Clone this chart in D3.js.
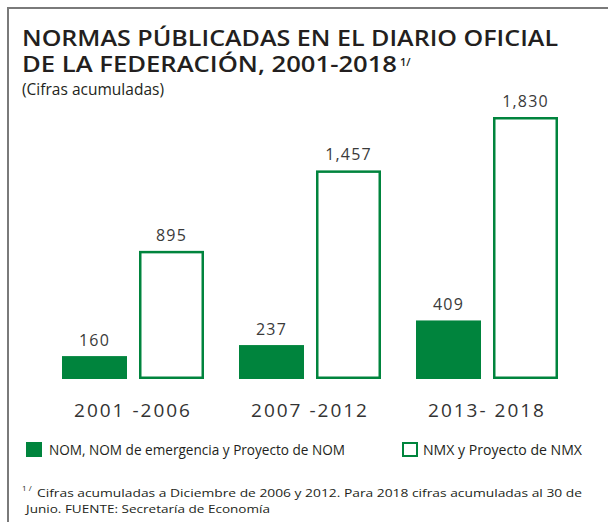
<!DOCTYPE html>
<html>
<head>
<meta charset="utf-8">
<script src="https://cdn.jsdelivr.net/npm/d3@7"></script>
<style>
  html, body { margin: 0; padding: 0; background: #fff; }
  svg { display: block; font-family: "Open Sans", sans-serif; }
</style>
</head>
<body>
<div id="chart"></div>
<script>
// ----- DATA -----
var periods = ["2001 -2006", "2007 -2012", "2013- 2018"];
var series = ["NOM", "NMX"];
var nomValues = [160, 237, 409];
var nmxValues = [895, 1457, 1830];
var legendLabels = ["NOM, NOM de emergencia y Proyecto de NOM", "NMX y Proyecto de NMX"];

var width = 608, height = 522;
var green = "#00843d";

var svg = d3.select("#chart").append("svg")
    .attr("width", width)
    .attr("height", height);

// frame
svg.append("path")
    .attr("d", "M 612 8 L 8 8 L 8 530")
    .attr("fill", "none")
    .attr("stroke", "#7a7a7a")
    .attr("stroke-width", 2);

// ----- TITLE -----
svg.append("text")
    .attr("x", 22).attr("y", 45.5)
    .attr("font-size", 21.5).attr("font-weight", 600)
    .attr("fill", "#231f20")
    .attr("textLength", 536).attr("lengthAdjust", "spacingAndGlyphs")
    .text("NORMAS PÚBLICADAS EN EL DIARIO OFICIAL");

svg.append("text")
    .attr("x", 22).attr("y", 72)
    .attr("font-size", 21.5).attr("font-weight", 600)
    .attr("fill", "#231f20")
    .attr("textLength", 375).attr("lengthAdjust", "spacingAndGlyphs")
    .text("DE LA FEDERACIÓN, 2001-2018");

svg.append("text")
    .attr("x", 400).attr("y", 66)
    .attr("font-size", 11).attr("font-weight", 600)
    .attr("fill", "#231f20")
    .text("1/");

svg.append("text")
    .attr("x", 22).attr("y", 95)
    .attr("font-size", 15.5)
    .attr("fill", "#231f20")
    .attr("textLength", 142).attr("lengthAdjust", "spacingAndGlyphs")
    .text("(Cifras acumuladas)");

// ----- SCALES -----
var x0 = d3.scaleBand()
    .domain(periods)
    .range([44.5, 575.5])
    .paddingInner(35 / 177)
    .paddingOuter(17.5 / 177);

var x1 = d3.scaleBand()
    .domain(series)
    .range([0, x0.bandwidth()])
    .paddingInner(12 / 77);

var y = d3.scaleLinear()
    .domain([0, 1830])
    .range([379, 117]);

var fmt = d3.format(",");

var rows = periods.map(function(p, i) {
    return {period: p, values: [
        {key: "NOM", value: nomValues[i]},
        {key: "NMX", value: nmxValues[i]}
    ]};
});

var groups = svg.selectAll("g.group")
    .data(rows)
    .enter().append("g")
    .attr("class", "group")
    .attr("transform", function(d) { return "translate(" + x0(d.period) + ",0)"; });

var sw = 2.5;
groups.selectAll("rect")
    .data(function(d) { return d.values; })
    .enter().append("rect")
    .attr("x", function(d) { return d.key == "NOM" ? x1(d.key) : x1(d.key) + sw / 2; })
    .attr("y", function(d) { return d.key == "NOM" ? y(d.value) : y(d.value) + sw / 2; })
    .attr("width", function(d) { return d.key == "NOM" ? x1.bandwidth() : x1.bandwidth() - sw; })
    .attr("height", function(d) { return d.key == "NOM" ? y(0) - y(d.value) : y(0) - y(d.value) - sw; })
    .attr("fill", function(d) { return d.key == "NOM" ? green : "#fff"; })
    .attr("stroke", function(d) { return d.key == "NOM" ? "none" : green; })
    .attr("stroke-width", sw);

groups.selectAll("text.value")
    .data(function(d) { return d.values; })
    .enter().append("text")
    .attr("class", "value")
    .attr("x", function(d) { return x1(d.key) + x1.bandwidth() / 2; })
    .attr("y", function(d) { return y(d.value) - 10; })
    .attr("text-anchor", "middle")
    .attr("font-size", 16)
    .attr("letter-spacing", 1.2)
    .attr("fill", "#3a3a3a")
    .text(function(d) { return fmt(d.value); });

// category labels
groups.append("text")
    .attr("x", x0.bandwidth() / 2)
    .attr("y", 417)
    .attr("text-anchor", "middle")
    .attr("font-size", 19)
    .attr("letter-spacing", 2)
    .attr("fill", "#333")
    .text(function(d) { return d.period; });

// ----- LEGEND -----
var legendX = [26, 402];
var legend = svg.selectAll("g.legend")
    .data(series)
    .enter().append("g")
    .attr("class", "legend")
    .attr("transform", function(d, i) { return "translate(" + legendX[i] + ",442)"; });

legend.append("rect")
    .attr("x", function(d) { return d == "NOM" ? 0 : 1; })
    .attr("y", function(d) { return d == "NOM" ? 0 : 1; })
    .attr("width", function(d) { return d == "NOM" ? 16 : 14; })
    .attr("height", function(d) { return d == "NOM" ? 15 : 13; })
    .attr("fill", function(d) { return d == "NOM" ? green : "#fff"; })
    .attr("stroke", function(d) { return d == "NOM" ? "none" : green; })
    .attr("stroke-width", 2);

legend.append("text")
    .attr("x", function(d) { return d == "NOM" ? 23 : 21; })
    .attr("y", 13)
    .attr("font-size", 14)
    .attr("fill", "#231f20")
    .attr("textLength", function(d, i) { return i == 0 ? 296 : 159; })
    .attr("lengthAdjust", "spacingAndGlyphs")
    .text(function(d, i) { return legendLabels[i]; });

// ----- FOOTNOTE -----
svg.append("text")
    .attr("x", 22).attr("y", 490.5)
    .attr("font-size", 8)
    .attr("fill", "#231f20")
    .text("1 /");

svg.append("text")
    .attr("x", 37).attr("y", 496.5)
    .attr("font-size", 11.5)
    .attr("fill", "#231f20")
    .attr("textLength", 545).attr("lengthAdjust", "spacingAndGlyphs")
    .text("Cifras acumuladas a Diciembre de 2006 y 2012. Para 2018 cifras acumuladas al 30 de");

svg.append("text")
    .attr("x", 26).attr("y", 512.5)
    .attr("font-size", 11.5)
    .attr("fill", "#231f20")
    .attr("textLength", 244).attr("lengthAdjust", "spacingAndGlyphs")
    .text("Junio. FUENTE: Secretaría de Economía");
</script>
</body>
</html>
